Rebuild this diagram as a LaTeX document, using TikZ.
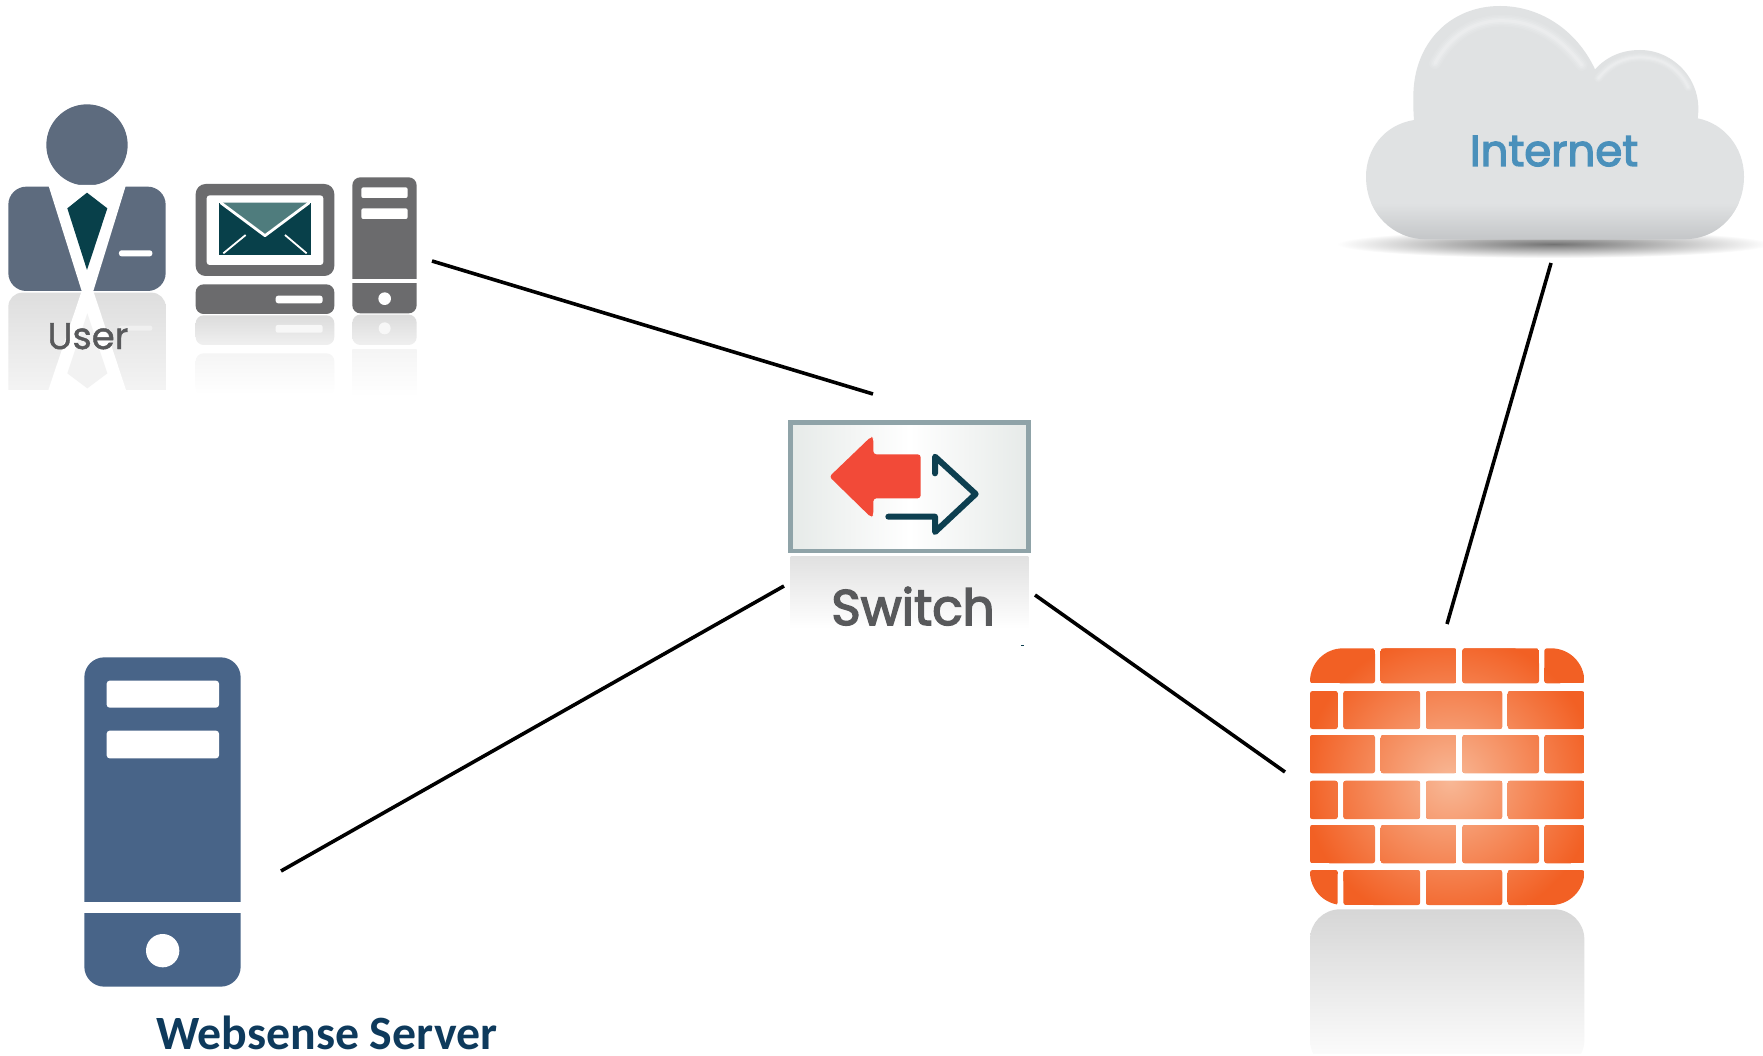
\documentclass[tikz,border=0pt]{standalone}
\usepackage{fontspec}
\setmainfont{Liberation Sans}
\newfontfamily\userfont[FakeBold=1.2]{Poppins}
\newfontfamily\iconfont[FakeBold=3]{Poppins}
\newfontfamily\srvfont{Carlito}
\definecolor{userblue}{HTML}{5D6B7E}
\definecolor{tiegreen}{HTML}{08404A}
\definecolor{pcgray}{HTML}{6B6B6D}
\definecolor{flap}{HTML}{4F7C7D}
\definecolor{srvblue}{HTML}{486488}
\definecolor{srvtext}{HTML}{0E3A5C}
\definecolor{swborder}{HTML}{8FA3A8}
\definecolor{swred}{HTML}{F24A38}
\definecolor{swdark}{HTML}{0D3F50}
\definecolor{swedge}{HTML}{E6EAE8}
\definecolor{labelgray}{HTML}{58595B}
\definecolor{cloudgray}{HTML}{E0E2E3}
\definecolor{cloudlow}{HTML}{C2C4C6}
\definecolor{nettext}{HTML}{4A90BB}
\definecolor{brick}{HTML}{F26024}
\definecolor{brickglow}{HTML}{F8B896}
\tikzset{
  zoomed/.style={x=0.33333pt,y=-0.33333pt},
  link/.style={draw=black,line width=3.6pt},
  lbl/.style={inner sep=0pt,anchor=base},
}
\newcommand{\cloudshape}{(282,360)
 .. controls (190,375) and (138,450) .. (138,530)
 .. controls (138,640) and (220,718) .. (320,718)
 -- (1090,718)
 .. controls (1200,718) and (1272,630) .. (1272,530)
 .. controls (1272,440) and (1210,370) .. (1133,355)
 .. controls (1150,240) and (1060,150) .. (960,150)
 .. controls (905,150) and (860,170) .. (825,208)
 .. controls (770,90) and (660,18) .. (540,18)
 .. controls (390,18) and (280,130) .. (280,290)
 .. controls (280,315) and (280,340) .. (282,360) -- cycle}
\newcommand{\bigarc}{(345,190) .. controls (400,90) and (480,62) .. (545,62) .. controls (640,62) and (720,110) .. (785,195)}
\newcommand{\smallarc}{(835,235) .. controls (870,190) and (915,172) .. (960,172) .. controls (1030,172) and (1080,210) .. (1105,262)}
\begin{document}
\begin{tikzpicture}[x=1pt,y=-1pt]
\useasboundingbox (0,0) rectangle (1763,1056);
\fill[white] (0,0) rectangle (1763,1056);

% ---------- user ----------
\begin{scope}[shift={(0,90)},zoomed]
  \shade[top color=black!13,bottom color=black!3,rounded corners=14pt] (25,950) -- (25,608) -- (497,608) -- (497,950) -- cycle;
  \fill[white] (0,900) rectangle (520,960);
  \fill[white] (245,603) -- (280,603) -- (378,900) -- (145,900) -- cycle;
  \fill[black!5] (262,670) -- (322,850) -- (262,895) -- (202,850) -- cycle;
  \fill[black!6,rounded corners=2pt] (357,707) rectangle (457,722);
  \fill[userblue] (261,165) circle (122);
  \fill[userblue,rounded corners=18pt] (25,290) rectangle (497,603);
  \fill[white] (145,285) -- (378,285) -- (280,603) -- (245,603) -- cycle;
  \fill[tiegreen] (261,308) -- (322,355) -- (261,540) -- (202,355) -- cycle;
  \fill[white,rounded corners=2.5pt] (357,481) rectangle (457,499);
  % computer reflection
  \shade[top color=black!14,bottom color=black!6,rounded corners=8pt] (587,676) rectangle (1003,765);
  \fill[black!3,rounded corners=2pt] (827,705) rectangle (968,728);
  \shade[top color=black!4,bottom color=white,rounded corners=8pt] (587,790) rectangle (1003,915);
  \shade[top color=black!14,bottom color=black!6,rounded corners=8pt] (1057,674) rectangle (1250,765);
  \fill[black!3] (1154,715) circle (18);
  \shade[top color=black!4,bottom color=white] (1057,778) rectangle (1250,920);
  % monitor
  \fill[pcgray,rounded corners=10pt] (587,282) rectangle (1003,558);
  \fill[white,rounded corners=3pt] (620,316) rectangle (970,525);
  \fill[tiegreen] (658,338) rectangle (932,495);
  \fill[flap] (668,338) -- (922,338) -- (795,432) -- cycle;
  \draw[white,line width=2.8pt,line join=round] (662,338) -- (795,437) -- (928,338);
  \draw[white,line width=1.8pt] (670,490) -- (737,435) (920,490) -- (855,435);
  % base
  \fill[pcgray,rounded corners=8pt] (587,583) rectangle (1003,672);
  \fill[white,rounded corners=2.5pt] (827,617) rectangle (968,640);
  % tower
  \fill[pcgray,rounded corners=8pt] (1057,262) rectangle (1250,670);
  \fill[white] (1057,567) rectangle (1250,578);
  \fill[white,rounded corners=2pt] (1084,292) rectangle (1223,324);
  \fill[white,rounded corners=2pt] (1084,355) rectangle (1223,387);
  \fill[white] (1154,626) circle (19);
\end{scope}
\node[lbl,font=\userfont\fontsize{37}{37}\selectfont,text=labelgray] (userlabel) at (88,349) {User};

% ---------- switch ----------
\begin{scope}[shift={(770,410)},zoomed]
  \shade[top color=black!12,bottom color=white] (62,438) rectangle (775,655);
  \shade[left color=swedge,right color=swedge,middle color=white,draw=swborder,line width=4.5pt] (62,37) rectangle (775,423);
  \fill[swred,rounded corners=3pt] (178,200) -- (303,80) -- (310,85) -- (310,133) -- (452,133) -- (452,265) -- (310,265) -- (310,315) -- (303,322) -- cycle;
  \draw[swdark,line width=6pt,line cap=round,line join=round] (495,190) -- (495,140) -- (617,252) -- (495,366) -- (495,320) -- (355,320);
  \fill[swdark] (752,704) rectangle (761,707);
\end{scope}
\node[lbl,font=\iconfont\fontsize{50}{50}\selectfont,text=labelgray] (switchlabel) at (913,625) {Switch};

% ---------- server ----------
\begin{scope}[shift={(60,640)},zoomed]
  \fill[srvblue,rounded corners=20pt] (73,52) rectangle (542,1040);
  \fill[white] (60,787) rectangle (555,820);
  \fill[white,rounded corners=3pt] (140,122) rectangle (477,203);
  \fill[white,rounded corners=3pt] (140,272) rectangle (477,355);
  \fill[white] (308,932) circle (50);
\end{scope}
\node[inner sep=0pt,anchor=base west,font=\srvfont\bfseries\fontsize{47.8}{47.8}\selectfont,text=srvtext] (srvlabel) at (156,1049) {Websense Server};

% ---------- cloud ----------
\begin{scope}[shift={(1320,0)},zoomed]
  \shade[inner color=black!55,outer color=white] (700,732) ellipse (650 and 42);
  \fill[cloudgray] \cloudshape;
  \begin{scope}
    \clip \cloudshape;
    \shade[top color=cloudgray,bottom color=cloudlow] (100,610) rectangle (1300,725);
    \foreach \w/\o in {12/.08,9/.10,6/.14,3/.18} {
      \draw[white,opacity=\o,line width=\w pt,line cap=round] \bigarc;
      \draw[white,opacity=\o,line width=0.7*\w pt,line cap=round] \smallarc;
    }
  \end{scope}
\end{scope}
\node[lbl,font=\iconfont\fontsize{43.5}{43.5}\selectfont,text=nettext] (netlabel) at (1554,166) {Internet};

% ---------- firewall ----------
\begin{scope}[shift={(1290,630)},zoomed]
  \shade[top color=black!16,bottom color=white,rounded corners=30pt] (60,1320) -- (60,838) -- (883,838) -- (883,1320) -- cycle;
  \fill[white] (40,1272) rectangle (900,1330);
  \begin{scope}
    \clip[rounded corners=33pt] (60,55) rectangle (883,825);
    \foreach \ya/\yb/\xs in {
      55/160/{60/255,272/500,517/747,763/883},
      183/297/{60/143,160/390,408/637,653/883},
      315/430/{60/255,272/500,517/747,763/883},
      452/567/{60/143,160/390,408/637,653/883},
      585/700/{60/255,272/500,517/747,763/883},
      720/825/{60/143,160/390,408/637,653/883}} {
      \foreach \xa/\xb in \xs {
        \begin{scope}
          \clip[rounded corners=2.5pt] (\xa,\ya) rectangle (\xb,\yb);
          \fill[brick] (\xa,\ya) rectangle (\xb,\yb);
          \shade[inner color=brickglow,outer color=brick] (480,450) circle (440);
        \end{scope}
      }
    }
  \end{scope}
\end{scope}

% ---------- connectors ----------
\coordinate (pcEnd) at (432,261);
\coordinate (swNW) at (873,394);
\coordinate (srvEnd) at (281,871);
\coordinate (swSW) at (784,586);
\coordinate (swSE) at (1035,595);
\coordinate (fwW) at (1285,772);
\coordinate (fwN) at (1447,624);
\coordinate (cloudS) at (1551,263);
\draw[link] (pcEnd) -- (swNW);
\draw[link] (srvEnd) -- (swSW);
\draw[link] (swSE) -- (fwW);
\draw[link] (fwN) -- (cloudS);
\end{tikzpicture}
\end{document}
